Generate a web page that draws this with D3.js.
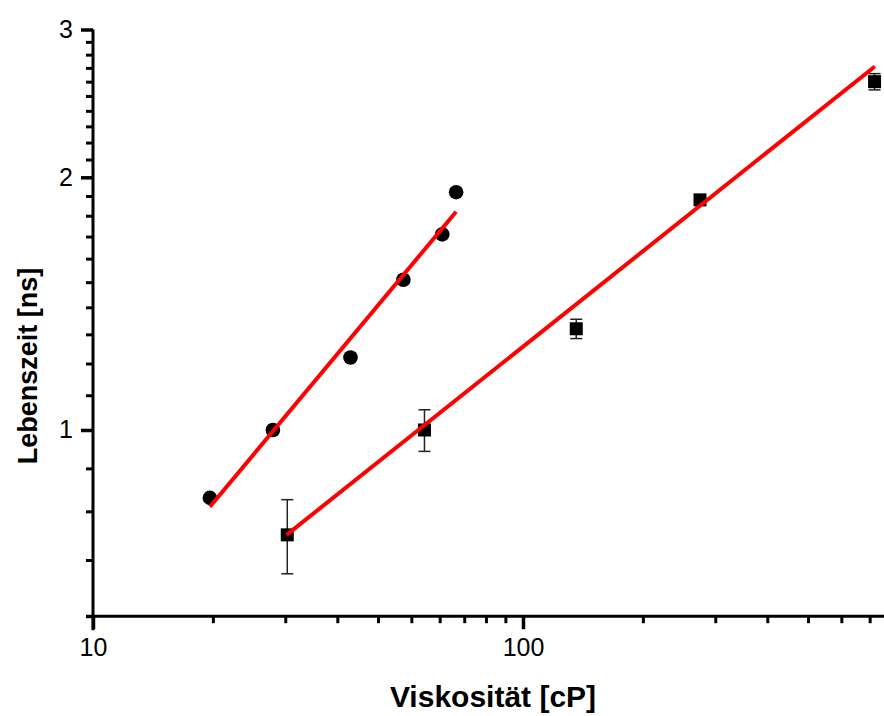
<!DOCTYPE html>
<html>
<head>
<meta charset="utf-8">
<script src="https://cdn.jsdelivr.net/npm/d3@7"></script>
<style>
  html, body { margin: 0; padding: 0; background: #fff; }
  svg { display: block; }
  text { font-family: "Liberation Sans", Arial, sans-serif; fill: #000; }
</style>
</head>
<body>
<svg id="chart" width="884" height="716"></svg>
<script>
// Fluorescence lifetime versus solvent viscosity (log-log)
// Series A (circles)
const circleVisc = [18.7, 26.2, 39.7, 52.7, 64.9, 69.9];
const circleLife = [0.83, 1.0, 1.22, 1.51, 1.71, 1.92];
// Series B (squares, with standard deviation)
const squareVisc = [28.3, 59.0, 133, 258, 657];
const squareLife = [0.75, 1.0, 1.32, 1.88, 2.6];
const squareErr  = [0.076, 0.057, 0.035, 0.012, 0.058];
// Power-law fits, given by their end points
const fitCircleVisc = [18.7, 69.9];
const fitCircleLife = [0.81, 1.82];
const fitSquareVisc = [28.2, 658];
const fitSquareLife = [0.75, 2.71];
// Axis ticks
const xMajorTicks = [10, 100];
const xTickLabels = ["10", "100"];
const yMajorTicks = [1, 2, 3];
const yTickLabels = ["1", "2", "3"];
const xTitle = "Viskosität [cP]";
const yTitle = "Lebenszeit [ns]";

const svg = d3.select("#chart");

const xDomain = [10, 700];
const x0 = 93, decadeX = 430;
const x = d3.scaleLog()
  .domain(xDomain)
  .range([x0, x0 + decadeX * Math.log10(xDomain[1] / xDomain[0])]);
const y = d3.scaleLog()
  .domain([0.6, 3])
  .range([616.2, 29.5]);

// minor ticks: nine equal linear steps inside each decade / unit interval
const xMinorTicks = [];
[10, 100].forEach(b => d3.range(1, 10).forEach(k => {
  const v = b + k * 0.9 * b;
  if (v <= xDomain[1]) xMinorTicks.push(v);
}));
const yMinorTicks = d3.range(6, 30).map(v => v / 10)
  .filter(v => !yMajorTicks.includes(v));

const axisW = 3;
const tickFont = 25;

// ---- X axis ----
const gx = svg.append("g").attr("transform", `translate(0,${y(0.6)})`);
gx.call(d3.axisBottom(x).tickValues(xMinorTicks).tickFormat("").tickSize(7).tickSizeOuter(0));
gx.call(g => g.selectAll(".tick line").attr("stroke-width", 3));
const gxMaj = svg.append("g").attr("transform", `translate(0,${y(0.6)})`);
gxMaj.call(d3.axisBottom(x).tickValues(xMajorTicks)
  .tickFormat((d, i) => xTickLabels[i]).tickSize(13).tickSizeOuter(0).tickPadding(9));
gxMaj.select(".domain").remove();
gxMaj.selectAll(".tick line").attr("stroke-width", 3.5);
gxMaj.selectAll(".tick text").attr("font-size", tickFont).attr("font-family", "Liberation Sans, Arial, sans-serif");
gx.select(".domain").attr("stroke-width", axisW).attr("d", `M${x0 - 7},0H900`);

// ---- Y axis ----
const gy = svg.append("g").attr("transform", `translate(${x0},0)`);
gy.call(d3.axisLeft(y).tickValues(yMinorTicks).tickFormat("").tickSize(7).tickSizeOuter(0));
gy.selectAll(".tick line").attr("stroke-width", 3);
gy.select(".domain").attr("stroke-width", axisW).attr("d", `M0,${y(3)}V${y(0.6) + 14}`);
const gyMaj = svg.append("g").attr("transform", `translate(${x0},0)`);
gyMaj.call(d3.axisLeft(y).tickValues(yMajorTicks)
  .tickFormat((d, i) => yTickLabels[i]).tickSize(12).tickSizeOuter(0).tickPadding(8));
gyMaj.select(".domain").remove();
gyMaj.selectAll(".tick line").attr("stroke-width", 3.5);
gyMaj.selectAll(".tick text").attr("font-size", tickFont).attr("font-family", "Liberation Sans, Arial, sans-serif");

// ---- Axis titles ----
svg.append("text")
  .attr("x", 493).attr("y", 707)
  .attr("text-anchor", "middle")
  .attr("font-size", 30).attr("font-weight", "bold")
  .text(xTitle);
svg.append("text")
  .attr("transform", "translate(37,366) rotate(-90)")
  .attr("text-anchor", "middle")
  .attr("font-size", 27).attr("font-weight", "bold")
  .text(yTitle);

// ---- Error bars (series B) ----
const capW = 6;
const eb = svg.append("g").attr("stroke", "#222").attr("stroke-width", 1.5);
squareVisc.forEach((v, i) => {
  const cx = x(v), yt = y(squareLife[i] + squareErr[i]), yb = y(squareLife[i] - squareErr[i]);
  eb.append("line").attr("x1", cx).attr("x2", cx).attr("y1", yt).attr("y2", yb);
  eb.append("line").attr("x1", cx - capW).attr("x2", cx + capW).attr("y1", yt).attr("y2", yt);
  eb.append("line").attr("x1", cx - capW).attr("x2", cx + capW).attr("y1", yb).attr("y2", yb);
});

// ---- Markers ----
svg.append("g").selectAll("circle")
  .data(circleVisc.map((v, i) => [v, circleLife[i]]))
  .join("circle")
  .attr("cx", d => x(d[0])).attr("cy", d => y(d[1]))
  .attr("r", 7.3).attr("fill", "#000");

const sq = 13;
svg.append("g").selectAll("rect")
  .data(squareVisc.map((v, i) => [v, squareLife[i]]))
  .join("rect")
  .attr("x", d => x(d[0]) - sq / 2).attr("y", d => y(d[1]) - sq / 2)
  .attr("width", sq).attr("height", sq).attr("fill", "#000");

// ---- Fit lines ----
const line = d3.line().x(d => x(d[0])).y(d => y(d[1]));
[[fitCircleVisc, fitCircleLife], [fitSquareVisc, fitSquareLife]].forEach(([vx, vy]) => {
  svg.append("path")
    .datum(vx.map((v, i) => [v, vy[i]]))
    .attr("d", line)
    .attr("fill", "none")
    .attr("stroke", "#ff0000")
    .attr("stroke-width", 4);
});
</script>
</body>
</html>
